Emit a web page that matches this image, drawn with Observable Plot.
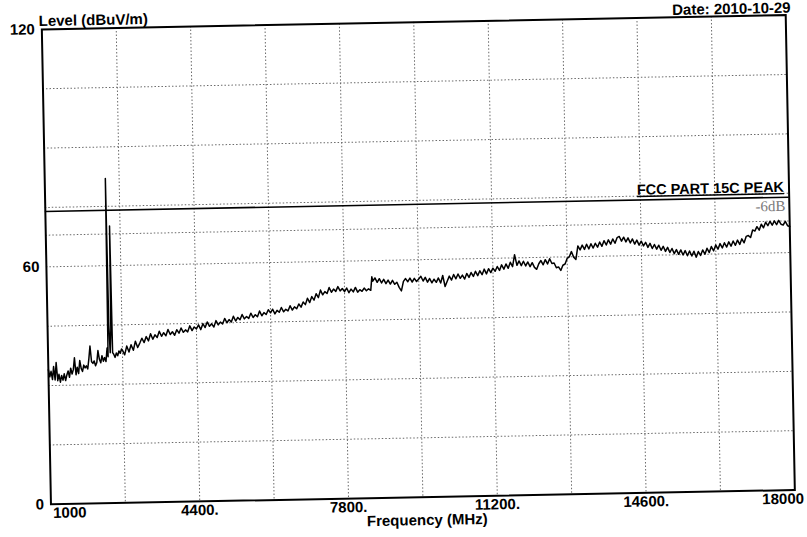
<!DOCTYPE html>
<html><head><meta charset="utf-8">
<script src="https://cdn.jsdelivr.net/npm/d3@7"></script>
<script src="https://cdn.jsdelivr.net/npm/@observablehq/plot@0.6"></script>
<style>
html,body{margin:0;padding:0;background:#fff;}
#chart svg{display:block;transform:rotate(-1.1deg);transform-origin:50% 50%;}
</style></head><body><div id="chart"></div>
<script>
const xTickValues = [1000, 4400, 7800, 11200, 14600, 18000];
const xTickLabels = ["1000", "4400.", "7800.", "11200.", "14600.", "18000"];
const yTickValues = [0, 60, 120];
const gridFreqs = [2700, 4400, 6100, 7800, 9500, 11200, 12900, 14600, 16300];
const gridLevels = [15, 30, 45, 60, 75, 90, 105];
const limitLevel = [74];
const marginLevel = [68];
const limitLabel = "FCC PART 15C PEAK";
const marginLabel = "-6dB";
const yTitle = "Level (dBuV/m)";
const xTitle = "Frequency (MHz)";
const dateText = "Date: 2010-10-29";

// trace readings [MHz, dBuV/m], one array per grid column
const col1 = [[1000,34.0],[1030,32.2],[1060,33.6],[1090,31.5],[1120,34.8],[1150,31.4],[1180,35.8],[1210,31.2],[1240,32.8],[1270,30.8],[1300,32.5],[1330,31.3],[1360,32.9],[1390,31.2],[1420,32.6],[1450,33.6],[1480,32.0],[1510,34.3],[1540,32.8],[1570,33.9],[1600,36.9],[1630,32.6],[1660,34.5],[1690,32.9],[1720,36.2],[1750,34.2],[1780,33.4],[1810,35.0],[1840,34.3],[1870,34.8],[1900,34.0],[1930,36.6],[1960,39.8],[1990,35.8],[2020,35.4],[2050,36.0],[2080,34.8],[2110,35.6],[2140,38.6],[2170,36.4],[2200,35.5],[2230,37.3],[2260,35.9],[2290,36.8],[2320,35.8],[2350,39.2],[2370,37.0],[2385,82.0],[2400,45.0],[2420,38.0],[2445,44.0],[2460,70.0],[2475,38.0],[2500,37.6],[2530,36.8],[2560,37.9],[2590,37.2],[2620,38.4],[2650,37.8],[2680,38.9]];
const col2 = [[2700,38.6],[2750,37.4],[2800,39.6],[2850,38.1],[2900,39.9],[2950,38.5],[3000,40.8],[3050,39.2],[3100,40.3],[3150,41.5],[3200,40.4],[3250,41.9],[3300,40.8],[3350,42.6],[3400,41.2],[3450,42.3],[3500,41.6],[3550,43.2],[3600,41.9],[3650,42.8],[3700,42.0],[3750,43.6],[3800,42.3],[3850,43.0],[3900,42.1],[3950,43.5],[4000,42.6],[4050,43.9],[4100,42.8],[4150,43.4],[4200,42.9],[4250,44.4],[4300,43.2],[4350,44.1]];
const col3 = [[4400,43.6],[4450,44.6],[4500,43.4],[4550,44.9],[4600,43.9],[4650,45.3],[4700,44.2],[4750,44.8],[4800,44.0],[4850,45.6],[4900,44.5],[4950,45.2],[5000,44.7],[5050,46.1],[5100,45.0],[5150,45.8],[5200,45.2],[5250,46.6],[5300,45.4],[5350,46.3],[5400,45.7],[5450,47.0],[5500,45.9],[5550,46.5],[5600,46.0],[5650,47.3],[5700,46.2],[5750,46.9],[5800,46.4],[5850,47.8],[5900,46.6],[5950,47.4],[6000,46.9],[6050,48.1]];
const col4 = [[6100,47.3],[6150,48.2],[6200,47.0],[6250,47.9],[6300,47.4],[6350,48.6],[6400,47.5],[6450,48.1],[6500,47.7],[6550,49.0],[6600,47.9],[6650,48.7],[6700,48.2],[6750,49.4],[6800,48.6],[6850,49.9],[6900,49.2],[6950,50.8],[7000,49.7],[7050,51.2],[7100,50.3],[7150,51.9],[7200,50.9],[7250,52.8],[7300,51.6],[7350,52.4],[7400,51.9],[7450,53.4],[7500,52.2],[7550,53.0],[7600,52.4],[7650,53.6],[7700,52.5],[7750,53.1]];
const col5 = [[7800,52.3],[7850,53.2],[7900,52.0],[7950,52.9],[8000,52.2],[8050,53.3],[8100,52.1],[8150,52.7],[8200,52.3],[8250,53.1],[8300,52.4],[8350,52.9],[8400,52.5],[8430,55.9],[8450,54.8],[8500,55.6],[8550,54.5],[8600,55.4],[8650,54.3],[8700,55.2],[8750,54.1],[8800,55.0],[8850,54.0],[8900,54.9],[8950,53.9],[9000,54.4],[9050,53.1],[9100,52.2],[9150,54.6],[9200,55.3],[9250,54.5],[9300,55.4],[9350,54.4],[9400,55.3],[9450,54.5]];
const col6 = [[9500,55.1],[9550,55.8],[9600,54.6],[9650,55.5],[9700,54.3],[9750,55.2],[9800,54.1],[9850,55.0],[9900,54.2],[9950,55.3],[10000,54.0],[10050,55.9],[10100,53.1],[10150,54.4],[10200,55.7],[10250,54.7],[10300,56.1],[10350,55.0],[10400,56.2],[10450,55.1],[10500,55.9],[10550,54.9],[10600,56.3],[10650,55.3],[10700,56.5],[10750,55.5],[10800,56.8],[10850,55.7],[10900,56.9],[10950,55.9],[11000,57.3],[11050,56.1],[11100,57.4],[11150,56.4]];
const col7 = [[11200,57.5],[11250,56.7],[11300,57.9],[11350,56.9],[11400,58.3],[11450,57.2],[11500,58.5],[11550,57.4],[11600,58.9],[11650,57.8],[11700,60.8],[11750,58.1],[11800,59.2],[11850,58.0],[11900,59.1],[11950,57.9],[12000,58.9],[12050,57.7],[12100,58.7],[12150,57.5],[12200,57.0],[12250,58.4],[12300,59.2],[12350,58.1],[12400,59.4],[12450,58.3],[12500,59.6],[12550,58.4],[12600,58.5],[12650,57.3],[12700,57.5],[12750,56.6],[12800,57.9],[12850,58.2]];
const col8 = [[12900,59.6],[12950,60.0],[13000,61.3],[13050,59.9],[13100,59.3],[13150,62.7],[13200,61.7],[13250,62.9],[13300,61.8],[13350,63.1],[13400,61.9],[13450,63.2],[13500,62.1],[13550,63.3],[13600,62.3],[13650,63.6],[13700,62.5],[13750,63.9],[13800,62.8],[13850,64.1],[13900,63.0],[13950,64.3],[14000,63.2],[14050,64.6],[14100,64.9],[14150,63.7],[14200,64.7],[14250,63.5],[14300,64.5],[14350,63.2],[14400,64.2],[14450,62.9],[14500,63.9],[14550,62.6]];
const col9 = [[14600,63.6],[14650,62.4],[14700,63.3],[14750,62.0],[14800,63.0],[14850,61.7],[14900,62.7],[14950,61.5],[15000,62.5],[15050,61.2],[15100,62.2],[15150,60.9],[15200,61.9],[15250,60.6],[15300,61.6],[15350,60.3],[15400,61.3],[15450,60.1],[15500,61.2],[15550,59.9],[15600,61.0],[15650,59.7],[15700,60.9],[15750,59.6],[15800,60.8],[15850,59.3],[15900,60.7],[15950,59.7],[16000,61.1],[16050,60.0],[16100,61.5],[16150,60.4],[16200,61.9],[16250,60.8]];
const col10 = [[16300,62.3],[16350,61.2],[16400,62.6],[16450,61.5],[16500,62.8],[16550,61.7],[16600,63.0],[16650,61.9],[16700,63.2],[16750,62.1],[16800,63.4],[16850,62.3],[16900,63.7],[16950,62.7],[17000,64.3],[17050,64.5],[17100,64.0],[17150,65.9],[17200,65.6],[17250,66.7],[17300,65.8],[17350,67.3],[17400,66.4],[17450,67.8],[17500,66.9],[17550,68.0],[17600,67.0],[17650,68.1],[17700,67.1],[17750,68.2],[17800,67.2],[17850,67.0],[17900,67.9],[17950,66.8],[18000,66.6]];

const trace = [...col1, ...col2, ...col3, ...col4, ...col5, ...col6, ...col7, ...col8, ...col9, ...col10]
  .map(([f, v]) => ({f, v}));

const fmt = d => xTickLabels[xTickValues.indexOf(d)];
const axisText = {tickSize: 0, tickPadding: 3, fontSize: 15, fontWeight: "bold", tickFormat: fmt, label: null};
const grid = {stroke: "#6a6a6a", strokeWidth: 1, strokeDasharray: "1.5,2"};

const chart = Plot.plot({
  width: 807,
  height: 537,
  marginLeft: 46,
  marginRight: 17,
  marginTop: 22,
  marginBottom: 40,
  style: {fontFamily: "'Liberation Sans', Arial, sans-serif", color: "black", background: "white", overflow: "visible"},
  x: {domain: [1000, 18000], label: null},
  y: {domain: [0, 120], label: null},
  marks: [
    Plot.ruleX(gridFreqs, grid),
    Plot.ruleY(gridLevels, grid),
    Plot.ruleY(marginLevel, grid),
    Plot.ruleY(limitLevel, {stroke: "black", strokeWidth: 1.6}),
    Plot.line(trace, {x: "f", y: "v", stroke: "black", strokeWidth: 1.5}),
    Plot.frame({stroke: "black", strokeWidth: 2}),
    Plot.axisY(yTickValues, {tickSize: 0, tickPadding: 7, fontSize: 15, fontWeight: "bold", label: null}),
    Plot.axisX([xTickValues[0]], {...axisText, textAnchor: "start", dx: 2}),
    Plot.axisX(xTickValues.slice(1, -1), axisText),
    Plot.axisX([xTickValues[5]], {...axisText, textAnchor: "end", dx: 9}),
    Plot.text(limitLevel, {y: d => d, text: () => limitLabel, frameAnchor: "right", textAnchor: "end", dx: -5, dy: -10, fontSize: 14.5, fontWeight: "bold"}),
    Plot.text(marginLevel, {y: d => d, text: () => marginLabel, frameAnchor: "right", textAnchor: "end", dx: -4, dy: -15, fontSize: 15, fill: "#7a7a7a", fontFamily: "'Liberation Serif', serif"}),
    Plot.text([yTitle], {text: d => d, frameAnchor: "top-left", textAnchor: "start", dx: -3, dy: -14, fontSize: 15, fontWeight: "bold"}),
    Plot.text([dateText], {text: d => d, frameAnchor: "top-right", textAnchor: "end", dx: 5, dy: -13, fontSize: 15, fontWeight: "bold"}),
    Plot.text([xTitle], {text: d => d, frameAnchor: "bottom", dx: 4, dy: 28, fontSize: 15, fontWeight: "bold"})
  ]
});
chart.querySelectorAll("text").forEach(t => {
  if (t.textContent === limitLabel) t.style.textDecoration = "underline";
});
document.getElementById("chart").appendChild(chart);
</script>
</body></html>
